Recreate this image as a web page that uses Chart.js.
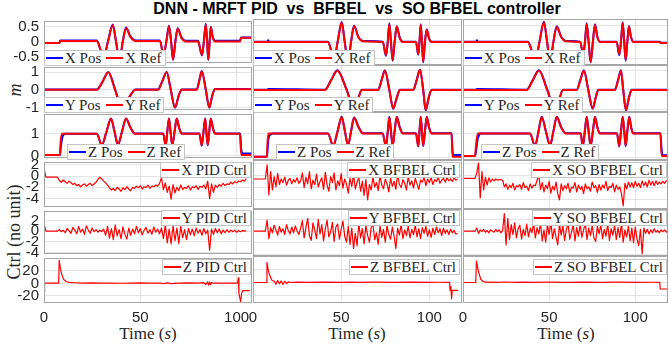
<!DOCTYPE html>
<html lang="en">
<head>
<meta charset="UTF-8">
<meta name="viewport" content="width=device-width, initial-scale=1.0">
<title>DNN - MRFT PID vs BFBEL vs SO BFBEL controller</title>
<style>
  body { margin: 0; background: #fff; overflow: hidden; }
  #fig { position: relative; width: 669px; height: 351px; overflow: hidden; background: #fff; color: #262626; font-family: 'Liberation Serif', 'Times New Roman', serif; }
  #fig canvas { position: absolute; }
  .title { position: absolute; left: 0; top: 0; width: 714px; text-align: center; white-space: pre; font: bold 16px 'Liberation Sans', Arial, sans-serif; line-height: 18px; color: #000; }
  .ylab { position: absolute; transform: translate(-50%, -50%) rotate(-90deg); white-space: nowrap; font-size: 18px; }
  .xlab { position: absolute; transform: translate(-50%, -50%); white-space: nowrap; font-size: 17px; }
  .lg { position: absolute; z-index: 5; display: flex; align-items: center; height: 14px; padding: 0 3px 0 1px; background: #fff; border: 1px solid #c4c4c4; font-size: 15px; line-height: 14px; white-space: nowrap; }
  .lg i { display: inline-block; width: 17px; height: 2px; margin-right: 2px; }
  .lg span + i { margin-left: 5px; }
</style>
</head>
<body>
<div id="fig">
  <div class="title">DNN - MRFT PID  vs  BFBEL  vs  SO BFBEL controller</div>
  <div class="ylab" style="left:15px; top:90px;"><i>m</i></div>
  <div class="ylab" style="left:14px; top:232px;">Ctrl (no unit)</div>
  <div class="xlab" style="left:148px; top:334px;">Time (<i>s</i>)</div>
  <div class="xlab" style="left:357px; top:334px;">Time (<i>s</i>)</div>
  <div class="xlab" style="left:566px; top:334px;">Time (<i>s</i>)</div>
</div>

<script src="https://cdn.jsdelivr.net/npm/chart.js"></script>
<script>
// ---- position / reference signals (time in s) ----
const xT1 = [0, 8.0, 8.4, 27.4, 29.0, 30.6, 33.2, 35.7, 37.4, 39.2, 40.9, 42.6, 45.0, 47.8, 60.2, 62.1, 63.5, 64.9, 66.0, 67.0, 68.2, 69.4, 71.5, 73.7, 80.0, 82.0, 83.0, 84.0, 84.7, 85.3, 86.0, 86.6, 87.6, 88.8, 101.8, 102.3, 107.5];
const xRef1 = [-0.03, -0.03, 0.03, 0.03, -0.2, -0.6, 0, 0.56, 0, -0.6, 0, 0.46, 0.15, 0.03, 0.03, -0.43, 0, 0.52, 0, -0.58, 0, 0.44, 0.12, 0.02, 0.02, -0.43, 0, 0.59, 0, -0.58, 0, 0.49, 0.15, 0.02, 0.02, 0.14, 0.14];
const xPos1 = [-0.03, -0.03, 0.05, 0.05, -0.18, -0.6, 0.02, 0.58, 0.02, -0.6, 0.02, 0.48, 0.17, 0.05, 0.05, -0.45, 0.02, 0.54, 0.02, -0.6, 0.02, 0.46, 0.14, 0.04, 0.04, -0.45, 0.02, 0.61, 0.02, -0.6, 0.02, 0.51, 0.17, 0.04, 0.04, 0.15, 0.15];
const xT2 = [0, 8.3, 8.6, 9.0, 42.5, 44.0, 45.7, 48.0, 50.3, 52.0, 53.9, 55.6, 57.3, 59.7, 62.4, 73.6, 75.4, 76.4, 77.3, 78.2, 79.2, 80.3, 81.5, 83.2, 84.9, 92.4, 93.7, 94.4, 95.1, 95.8, 96.5, 97.5, 98.5, 99.8, 101.3, 118.5];
const xRef2 = [0, 0, 0, 0, 0, -0.2, -0.6, 0, 0.59, 0, -0.6, 0, 0.49, 0.15, 0.02, 0, -0.40, 0, 0.55, 0, -0.55, 0, 0.47, 0.12, 0, 0, -0.37, 0, 0.52, 0, -0.61, 0, 0.37, 0.1, 0, 0];
const xPos2 = [0.01, 0.01, 0.05, 0.01, 0.01, -0.2, -0.62, 0.01, 0.61, 0.01, -0.62, 0.01, 0.5, 0.16, 0.03, 0.01, -0.42, 0.01, 0.57, 0.01, -0.57, 0.01, 0.48, 0.13, 0.01, 0.01, -0.39, 0.01, 0.54, 0.01, -0.62, 0.01, 0.39, 0.11, 0.01, 0.01];
const xT3 = [0, 7.8, 8.1, 8.5, 37.7, 39.5, 41.8, 44.4, 47.0, 48.8, 50.5, 52.5, 54.4, 57.0, 59.8, 68.0, 69.8, 70.8, 71.8, 72.9, 74.1, 75.4, 76.6, 78.0, 79.5, 89.2, 90.7, 91.7, 92.7, 93.6, 94.4, 95.4, 96.3, 97.5, 98.8, 114.3, 114.6, 119];
const xRef3 = [0, 0, 0, 0, 0, -0.2, -0.6, 0, 0.59, 0, -0.6, 0, 0.46, 0.15, 0.02, 0, -0.37, 0, 0.55, 0, -0.6, 0, 0.52, 0.15, 0, 0, -0.37, 0, 0.57, 0, -0.55, 0, 0.47, 0.15, 0, 0, -0.03, -0.03];
const xPos3 = [0.01, 0.01, 0.05, 0.01, 0.01, -0.2, -0.62, 0.01, 0.62, 0.01, -0.62, 0.01, 0.48, 0.16, 0.03, 0.01, -0.4, 0.01, 0.57, 0.01, -0.62, 0.01, 0.54, 0.16, 0.01, 0.01, -0.4, 0.01, 0.6, 0.01, -0.57, 0.01, 0.49, 0.16, 0.01, 0.01, -0.02, -0.02];

const yT1 = [0, 27.4, 30.4, 33.4, 36.9, 40.5, 44.0, 47.5, 59.2, 61.5, 63.7, 65.8, 68.0, 70.0, 71.5, 79.3, 80.6, 81.9, 84.0, 85.8, 87.4, 88.8, 107.5];
const yRef1 = [0, 0, 0.45, 1.0, 0, -1.0, -0.45, 0, 0, 0.5, 1.0, 0, -1.0, -0.3, 0, 0, 0.5, 1.05, 0, -1.0, -0.3, 0.03, 0.03];
const yPos1 = [0.02, 0.02, 0.47, 1.02, 0.02, -1.02, -0.47, 0.02, 0.02, 0.52, 1.02, 0.02, -1.02, -0.32, 0.02, 0.02, 0.52, 1.07, 0.02, -1.02, -0.32, 0.05, 0.05];
const yT2 = [0, 8.3, 8.6, 40.8, 44.3, 47.8, 53.1, 57.3, 59.5, 61.6, 71.0, 72.9, 74.8, 77.3, 79.5, 81.5, 83.3, 90.9, 92.8, 94.7, 96.5, 97.9, 99.6, 101.3, 118.5];
const yRef2 = [0, 0, 0, 0, 0.5, 1.0, 0, -1.0, -0.5, 0, 0, 0.5, 1.0, 0, -0.96, -0.4, 0, 0, 0.5, 1.05, 0, -1.05, -0.4, 0, 0];
const yPos2 = [0.01, 0.01, 0.05, 0.01, 0.52, 1.02, 0.01, -1.02, -0.52, 0.01, 0.01, 0.52, 1.02, 0.01, -0.98, -0.42, 0.01, 0.01, 0.52, 1.07, 0.01, -1.07, -0.42, 0.01, 0.01];
const yT3 = [0, 7.8, 8.1, 37.0, 40.5, 44.1, 48.9, 53.4, 55.8, 58.0, 66.0, 68.1, 70.2, 72.7, 75.3, 77.0, 78.5, 88.2, 90.0, 91.7, 93.0, 94.6, 96.3, 97.9, 119];
const yRef3 = [0, 0, 0, 0, 0.5, 1.0, 0, -1.0, -0.5, 0, 0, 0.5, 1.0, 0, -0.96, -0.4, 0, 0, 0.5, 1.0, 0, -1.05, -0.4, 0, 0];
const yPos3 = [0.01, 0.01, 0.05, 0.01, 0.52, 1.02, 0.01, -1.02, -0.52, 0.01, 0.01, 0.52, 1.02, 0.01, -0.98, -0.42, 0.01, 0.01, 0.52, 1.02, 0.01, -1.07, -0.42, 0.01, 0.01];

const zT1 = [0, 8.3, 8.6, 9.4, 10.2, 11.0, 27.4, 30.0, 32.4, 34.8, 36.6, 38.4, 40.5, 42.6, 45.0, 47.2, 61.9, 63.2, 64.0, 64.9, 65.7, 66.6, 67.8, 68.9, 70.2, 71.5, 80.7, 81.9, 82.8, 83.7, 84.3, 85.0, 85.8, 86.6, 87.7, 88.8, 101.8, 102.4, 103.0, 107.5];
const zRef1 = [0.04, 0.04, 0.6, 1.0, 1.0, 1.0, 1.0, 0.5, 1.08, 1.68, 1.1, 0.52, 1.1, 1.68, 1.25, 1.0, 1.0, 0.48, 1.08, 1.68, 1.1, 0.5, 1.1, 1.68, 1.25, 1.0, 1.0, 0.48, 1.08, 1.68, 1.1, 0.5, 1.1, 1.68, 1.25, 1.0, 1.0, 0.04, 0.04, 0.04];
const zPos1 = [0.04, 0.04, 0.3, 0.8, 0.96, 1.0, 1.0, 0.48, 1.08, 1.7, 1.1, 0.5, 1.1, 1.7, 1.27, 1.01, 1.01, 0.46, 1.08, 1.7, 1.1, 0.48, 1.1, 1.7, 1.27, 1.01, 1.01, 0.46, 1.08, 1.7, 1.1, 0.48, 1.1, 1.7, 1.27, 1.01, 1.01, 0.3, 0.11, 0.11];
const zT2 = [0, 7.9, 8.2, 8.8, 10.0, 11.3, 42.5, 45.5, 47.9, 50.3, 52.1, 53.9, 55.6, 57.3, 59.9, 62.4, 73.5, 75.4, 76.4, 77.3, 78.2, 79.2, 80.3, 81.5, 83.2, 84.9, 92.4, 93.7, 94.4, 95.1, 95.8, 96.5, 97.5, 98.5, 99.8, 101.3, 112.6, 113.1, 113.7, 118];
const zRef2 = [0.04, 0.04, 0.6, 1.0, 1.0, 1.0, 1.0, 0.5, 1.08, 1.68, 1.1, 0.52, 1.1, 1.65, 1.25, 1.0, 1.0, 0.48, 1.08, 1.68, 1.1, 0.5, 1.1, 1.68, 1.25, 1.0, 1.0, 0.48, 1.08, 1.68, 1.1, 0.5, 1.1, 1.68, 1.25, 1.0, 1.0, 0.04, 0.04, 0.04];
const zPos2 = [0.04, 0.04, 0.3, 0.8, 0.96, 1.0, 1.0, 0.48, 1.08, 1.7, 1.1, 0.5, 1.1, 1.67, 1.27, 1.01, 1.01, 0.46, 1.08, 1.7, 1.1, 0.48, 1.1, 1.7, 1.27, 1.01, 1.01, 0.46, 1.08, 1.7, 1.1, 0.48, 1.1, 1.7, 1.27, 1.01, 1.01, 0.3, 0.11, 0.11];
const zT3 = [0, 7.0, 7.6, 8.6, 9.5, 10.2, 38.9, 41.8, 43.8, 45.7, 48.1, 50.5, 52.5, 54.4, 57.0, 59.8, 68.3, 69.5, 70.7, 71.8, 72.9, 74.1, 75.4, 76.6, 78.0, 79.5, 89.4, 90.7, 91.7, 92.7, 93.6, 94.4, 95.4, 96.5, 97.6, 98.8, 114.6, 115.3, 115.9, 119];
const zRef3 = [0.07, 0.07, 0.55, 1.0, 1.0, 1.0, 1.0, 0.5, 1.08, 1.68, 1.1, 0.52, 1.1, 1.68, 1.25, 1.0, 1.0, 0.48, 1.08, 1.68, 1.1, 0.5, 1.1, 1.68, 1.25, 1.0, 1.0, 0.48, 1.08, 1.68, 1.1, 0.5, 1.1, 1.68, 1.25, 1.0, 1.0, 0.07, 0.07, 0.07];
const zPos3 = [0.07, 0.07, 0.3, 0.8, 0.96, 1.0, 1.0, 0.48, 1.08, 1.7, 1.1, 0.5, 1.1, 1.7, 1.27, 1.01, 1.01, 0.46, 1.08, 1.7, 1.1, 0.48, 1.1, 1.7, 1.27, 1.01, 1.01, 0.46, 1.08, 1.7, 1.1, 0.48, 1.1, 1.7, 1.27, 1.01, 1.01, 0.3, 0.1, 0.1];

// ---- control signals, X and Y sampled once per second ----
const tCtrl1 = Array.from({ length: 106 }, (_, i) => i);
const tCtrl2 = Array.from({ length: 117 }, (_, i) => i);
const tCtrl3 = Array.from({ length: 120 }, (_, i) => i);

const xCtrl1 = [1.4, -0.2, -0.2, -0.2, -0.2, -0.2, -0.2, -0.2,
  -0.8, -1.1, -0.7, -1.0, -1.3, -0.9, -1.2, -1.5, -1.3, -1.7,
  -1.5, -1.9, -1.6, -1.4, -1.8, -1.5, -1.3, -1.7, -1.4, -1.1,
  -0.6, -0.2, -0.5, -0.9, -1.2, -1.6, -2.1, -2.5, -2.2, -2.6,
  -2.0, -2.3, -2.7, -2.1, -2.4, -1.9, -2.3, -2.6, -2.0, -2.2,
  -1.8, -2.1, -1.7, -2.3, -1.9, -2.0, -1.6, -2.2, -1.8, -1.9,
  -1.6, -1.8, -1.3, -0.3, -2.4, -1.2, -2.9, -1.8, -4.1, -1.5,
  -3.0, -2.0, -2.6, -1.6, -2.4, -2.0, -2.2, -1.7, -2.5, -1.9,
  -2.1, -1.7, -2.4, -1.8, -2.0, -1.6, -2.3, -0.9, -4.0, -1.4,
  -2.9, -1.6, -2.0, -1.5, -1.8, -1.3, -1.7, -1.4, -1.5, -1.1,
  -1.4, -1.0, -1.2, -0.9, -1.0, -0.7, -0.9, -0.5];
const yCtrl1 = [1.5, 0, 0, 0, 0, 0, 0, 0,
  0.3, -0.1, 0.2, -0.3, 0.5, 0.1, -0.4, 0.7, 0.2, -0.5,
  0.9, -0.2, 0.4, -0.6, 1.0, 0.2, -0.4, 0.6, -0.1, 0.3,
  -0.2, 0.2, -0.1, 0.4, -0.8, 0.9, -1.3, 0.5, -1.6, 1.2,
  -0.9, 0.3, -1.4, 0.8, -0.6, -1.5, 0.6, -0.8, 0.4, -0.5,
  0.9, -0.3, 0.5, -0.7, 0.2, 0.7, -0.4, 0.3, -0.6, 0.8,
  -0.2, 0.4, -0.5, 0.6, -1.4, 1.2, -2.2, 0.4, -2.4, 1.0,
  -1.8, 0.6, -2.3, 0.9, -1.2, 0.3, -1.6, 0.5, -0.7, 0.4,
  -0.9, 0.6, -0.4, 0.3, -0.8, 0.5, -0.5, 0.2, -3.6, 0.4,
  -0.6, 0.5, -0.3, 0.4, -0.5, 0.2, -0.3, 0.3, -0.2, 0.2,
  -0.1, 0.2, -0.2, 0.1, -0.1, 0.1, 0, 0.1];
const xCtrl2 = [-0.6, -0.6, -0.6, -0.6, -0.6, -0.6, -0.6, -0.6,
  1.7, -3.2, 0.6, -2.4, -0.2, -1.9, 0.3, -1.5, -0.6, -1.2,
  -0.3, -1.6, -0.8, -0.5, -1.4, -0.7, -1.1, -0.4, -1.3, -0.9,
  0.4, -2.0, -0.3, -1.4, 0.6, -2.2, -0.8, -1.5, 0.2, -1.9,
  -1.0, -0.4, -2.3, 0.5, -1.6, -2.6, -0.2, -1.2, 0.4, -2.4,
  -0.9, -1.7, 0.3, -2.1, -0.6, -1.4, -2.9, -0.5, -1.8, 0.1,
  -2.2, -1.1, -0.4, -2.6, -1.0, -3.3, -0.7, -4.0, -1.5, -2.4,
  -0.3, -1.9, -1.2, -2.5, 0.0, -1.6, -2.2, -0.6, -1.4, -2.7,
  -0.4, -1.8, -1.0, -2.3, 0.2, -1.5, -2.0, -0.7, -1.3, -2.4,
  -0.2, -1.6, -0.9, -2.1, -0.5, -1.4, -2.3, -0.8, -1.1, -0.3,
  -1.7, -0.6, -1.2, -0.4, -1.5, -0.7, -1.0, -0.3, -1.3, -0.8,
  -0.5, -1.1, -0.4, -0.9, -0.6, -1.0, -0.4, -0.8, -0.6];
const yCtrl2 = [0, 0, 0, 0, 0, 0, 0, 0,
  1.9, -1.3, 0.6, -0.3, 1.0, 0.2, -0.7, 0.8, -0.2, 0.4,
  -0.6, 1.1, 0.1, -0.5, 0.7, -0.3, 0.9, 0.0, -0.6, 0.5,
  1.8, -1.2, 0.6, 2.2, -0.8, -1.6, 1.4, 0.2, -1.3, 2.0,
  -0.5, 1.1, -1.7, 0.4, 1.9, -1.0, -0.2, 1.5, -1.8, 0.7,
  1.2, -1.4, 0.3, 1.7, -0.9, -1.9, 0.8, -2.3, 0.5, -3.0,
  -0.4, -2.5, 1.3, -1.2, 0.4, -2.2, 1.0, -0.8, -1.9, 0.6,
  1.2, -1.5, -0.3, -2.3, 0.9, -1.1, 0.3, -1.9, 1.0, -0.6,
  -1.4, 0.7, -0.9, -3.0, 0.5, -0.7, 1.1, -1.3, 0.2, -0.8,
  0.9, -1.2, 0.3, -0.6, 1.0, -1.0, 0.4, -1.3, 0.6, -0.4,
  0.8, -0.9, 0.2, -1.1, 0.5, -0.6, 0.7, -0.3, 0.4, -0.8,
  0.5, -0.4, 0.2, -0.6, 0.3, -0.3, 0.1, -0.5, -0.4];
const xCtrl3 = [-0.5, -0.5, -0.5, -0.5, -0.5, -0.5, -0.5, -0.5,
  0.4, 2.0, -3.7, 0.6, -2.4, -0.3, -1.6, -0.4, -1.1, -0.6,
  -0.9, -0.6, -0.8, -0.7, -0.7, -0.8, -1.9, -1.4, -2.3, -1.6,
  -2.0, -1.3, -2.4, -1.7, -1.9, -1.5, -2.3, -1.2, -2.0, -1.8,
  -2.5, -1.4, -2.1, -1.6, -1.7, -0.8, 0.0, -2.3, -1.2, -2.7,
  -1.6, -2.2, -1.0, -2.9, -1.8, -2.4, -1.1, -3.0, -4.0, -1.4,
  -2.5, -1.7, -2.2, -1.3, -2.8, -1.9, -2.1, -1.2, -2.7, -1.6,
  -2.3, -1.8, -3.0, -1.4, -2.2, -1.9, -2.6, -1.1, -2.0, -1.7,
  -2.8, -1.5, -2.4, -1.6, -2.1, -1.0, -2.5, -1.8, -2.0, -1.3,
  -2.7, -1.6, -2.3, -1.9, -3.0, -5.0, -1.3, -2.2, -1.1, -1.9,
  -1.2, -2.0, -1.0, -1.8, -1.3, -2.0, -0.9, -1.7, -1.1, -1.9,
  -0.8, -1.6, -1.0, -1.7, -0.9, -1.5, -1.1, -1.4, -1.0, -1.3,
  -0.9, -1.0];
const yCtrl3 = [0, 0, 0, 0, 0, 0, 0, 0,
  0.5, -0.4, 0.2, -0.1, 0.3, -0.2, 0.1, -0.3, 0.2, 0.0,
  -0.2, 0.3, -0.1, 0.2, -0.3, 0.1, 3.0, -2.4, 2.2, -1.5,
  1.1, -0.6, 1.4, -1.2, 0.4, 1.0, -1.4, 0.3, -0.8, 1.2,
  -1.0, 0.5, -0.3, 1.3, -1.2, 0.6, -0.5, 1.4, -1.7, 0.2,
  -1.9, 1.1, -0.6, 1.5, -1.3, 0.4, -1.0, -2.4, 1.2, -0.7,
  0.9, -1.6, 0.3, 1.3, -1.4, -0.2, 1.0, -1.7, 0.6, -0.9,
  1.2, -1.1, 0.2, 1.4, -1.5, 0.5, -0.8, 1.0, -1.2, -1.8,
  0.8, -0.5, 1.1, -1.3, 0.3, -0.9, 1.2, -1.6, 0.4, -0.7,
  1.0, -1.5, 0.6, -1.1, 1.3, -1.9, 0.2, -1.0, 0.8, -1.7,
  0.5, -2.0, 0.7, -1.4, -2.5, 0.3, -3.9, 0.5, -0.4, 0.3,
  -0.5, 0.2, -0.3, 0.4, -0.2, 0.1, -0.3, 0.2, -0.1, 0.2,
  -0.2, 0.1];

// Z control: irregular sample times
const zcT1 = [0, 0.3, 7.6, 7.9, 8.5, 9.3, 10.2, 11.5, 13, 16, 20, 25, 30, 35, 40, 45, 50, 55, 60, 62, 64, 66, 70, 75, 80, 83, 84, 85, 85.5, 86, 86.5, 87, 88, 90, 95, 100.5, 100.9, 101.2, 102.1, 102.6, 103.2, 107];
const zCtrl1 = [-14, 0.5, 0.5, 37, 24, 14, 6.5, 3, 1.5, 1, 0.5, 0.8, 0.3, 0.6, 0.2, 0.5, 0.7, 0.3, 0.6, -0.5, 0.8, -0.3, 0.5, 0.7, 0.4, 1.2, -2, 2.5, -2.5, 2, -2, 1.5, 0.3, 0.5, 0.4, 0.5, 9, -16, -29.5, -16, -11.5, -11.5];
const zcT2 = [0, 7.6, 7.9, 8.6, 9.2, 10.6, 12, 13, 14, 15, 16, 17, 18, 19, 20, 21, 25, 30, 40, 50, 55, 60, 70, 80, 90, 100, 105, 111.5, 111.7, 112.2, 112.6, 113.0, 116.3];
const zCtrl2 = [0, 0, 31, 20, 13, 4, 2, -2.5, 3, -2, 2.5, -3, 2, -1.5, 1, 0, 0.5, 0.2, 0.5, 0.1, 0.6, 0.3, 0.5, 0.2, 0.6, 0.3, 0.4, 0.3, -12, -6, -25, -12, -12];
const zcT3 = [0, 7.4, 7.8, 8.9, 10.3, 11.5, 13, 20, 25, 30, 35, 40, 50, 60, 70, 80, 90, 100, 110, 114.2, 114.5, 119];
const zCtrl3 = [0, 0, 33, 18, 5, 2, 0.5, 0.3, 0.8, 0.2, 0.6, 0.3, 0.5, 0.2, 0.6, 0.3, 0.5, 0.3, 0.4, 0.3, -10, -10];

const xTicks = [0, 50, 100];
const ctrlNames = ['PID', 'BFBEL', 'SO BFBEL'];

// ---- layout ----
const fig = document.getElementById('fig');
const PAD = 12;
const GRID = '#e4e4e4';
const TICK_FONT = { family: "'Liberation Sans', Arial, sans-serif", size: 15 };
const cols = [
  { left: 44, right: 252, max: 108 },
  { left: 253, right: 462, max: 118.5 },
  { left: 463, right: 668, max: 119 }
];
const rows = [
  { top: 19, bottom: 65, min: -0.7, max: 0.7, ticks: [-0.5, 0, 0.5] },
  { top: 65, bottom: 112, min: -1.15, max: 1.3, ticks: [-1, 0, 1] },
  { top: 112, bottom: 160, min: -0.1, max: 1.9, ticks: [0, 1] },
  { top: 160, bottom: 209, min: -5.5, max: 2.5, ticks: [-4, -2, 0, 2] },
  { top: 209, bottom: 256, min: -4.3, max: 3.8, ticks: [-4, -2, 0, 2] },
  { top: 256, bottom: 303, min: -31.5, max: 40.8, ticks: [-20, 0, 20] }
];

const boxPlugin = {
  id: 'box',
  afterDraw(chart) {
    const a = chart.chartArea, ctx = chart.ctx;
    ctx.save();
    ctx.strokeStyle = '#a6a6a6';
    ctx.lineWidth = 1;
    ctx.strokeRect(Math.round(a.left) + 0.5, Math.round(a.top) + 0.5,
      Math.round(a.right - a.left) - 1, Math.round(a.bottom - a.top) - 1);
    ctx.restore();
  }
};

function pts(ts, vs) {
  return ts.map((t, i) => ({ x: t, y: vs[i] }));
}

function posRefSets(t, pos, ref) {
  return [
    { data: pts(t, ref), borderColor: '#ff0000', borderWidth: 2, cubicInterpolationMode: 'monotone', order: 0 },
    { data: pts(t, pos), borderColor: '#0000ff', borderWidth: 2, cubicInterpolationMode: 'monotone', order: 1 }
  ];
}

function ctrlSets(t, v) {
  return [{ data: pts(t, v), borderColor: '#ff0000', borderWidth: 1.2, tension: 0 }];
}

function panel(r, c, datasets) {
  const col = cols[c], row = rows[r];
  const bottomRow = r === rows.length - 1;
  const xh = bottomRow ? 26 : 0;
  const left = (c === 0 ? 0 : col.left) - PAD;
  const top = row.top - PAD;
  const w = col.right - left + PAD;
  const h = row.bottom - top + (bottomRow ? xh : PAD);
  const cv = document.createElement('canvas');
  cv.width = w; cv.height = h;
  cv.style.left = left + 'px'; cv.style.top = top + 'px';
  cv.style.width = w + 'px'; cv.style.height = h + 'px';
  fig.appendChild(cv);

  new Chart(cv, {
    type: 'line',
    data: { datasets },
    options: {
      responsive: false,
      animation: false,
      devicePixelRatio: 1,
      layout: { padding: { left: PAD, right: PAD, top: PAD, bottom: bottomRow ? 0 : PAD } },
      plugins: { legend: { display: false }, tooltip: { enabled: false } },
      elements: { point: { radius: 0 }, line: { borderJoinStyle: 'round' } },
      scales: {
        x: {
          type: 'linear', min: 0, max: col.max,
          afterBuildTicks: s => { s.ticks = xTicks.map(v => ({ value: v })); },
          afterFit: s => { s.height = xh; },
          grid: { color: GRID, drawTicks: false },
          border: { display: false },
          ticks: { display: bottomRow, padding: 6, autoSkip: false, maxRotation: 0, color: '#262626', font: TICK_FONT }
        },
        y: {
          min: row.min, max: row.max,
          afterBuildTicks: s => { s.ticks = row.ticks.map(v => ({ value: v })); },
          afterFit: s => { s.width = c === 0 ? col.left : 0; },
          grid: { color: GRID, drawTicks: false },
          border: { display: false },
          ticks: { display: c === 0, autoSkip: false, padding: 5, color: '#262626', font: TICK_FONT, callback: v => String(v) }
        }
      }
    },
    plugins: [boxPlugin]
  });
}

function legend(items, style) {
  const d = document.createElement('div');
  d.className = 'lg';
  items.forEach(([color, text]) => {
    d.insertAdjacentHTML('beforeend', '<i style="background:' + color + '"></i><span>' + text + '</span>');
  });
  Object.assign(d.style, style);
  fig.appendChild(d);
}

const posRef = [
  [[xT1, xPos1, xRef1], [xT2, xPos2, xRef2], [xT3, xPos3, xRef3]],
  [[yT1, yPos1, yRef1], [yT2, yPos2, yRef2], [yT3, yPos3, yRef3]],
  [[zT1, zPos1, zRef1], [zT2, zPos2, zRef2], [zT3, zPos3, zRef3]]
];
const ctrl = [
  [[tCtrl1, xCtrl1], [tCtrl2, xCtrl2], [tCtrl3, xCtrl3]],
  [[tCtrl1, yCtrl1], [tCtrl2, yCtrl2], [tCtrl3, yCtrl3]],
  [[zcT1, zCtrl1], [zcT2, zCtrl2], [zcT3, zCtrl3]]
];
const axisNames = ['X', 'Y', 'Z'];

// legend placement (px)
const posLegendTop = [50, 97, 144];
const posLegendLeft = [[44, 253, 463], [44, 253, 463], [67, 276, 481]];
const ctrlLegendTop = [162, 210, 259];
const ctrlLegendRight = [418, 209, 2];

for (let c = 0; c < 3; c++) {
  for (let k = 0; k < 3; k++) {
    const [t, pos, ref] = posRef[k][c];
    panel(k, c, posRefSets(t, pos, ref));
    legend([['#0000ff', axisNames[k] + ' Pos'], ['#ff0000', axisNames[k] + ' Ref']],
      { left: posLegendLeft[k][c] + 'px', top: posLegendTop[k] + 'px' });

    const [tc, vc] = ctrl[k][c];
    panel(k + 3, c, ctrlSets(tc, vc));
    legend([['#ff0000', axisNames[k] + ' ' + ctrlNames[c] + ' Ctrl']],
      { right: ctrlLegendRight[c] + 'px', top: ctrlLegendTop[k] + 'px' });
  }
}
</script>
</body>
</html>
